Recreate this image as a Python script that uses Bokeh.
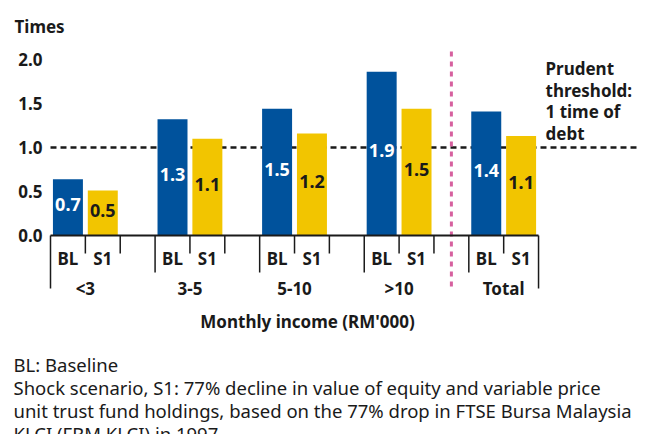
from bokeh.plotting import figure
from bokeh.models import Range1d
from bokeh.core.properties import value
from bokeh.embed import file_html
from bokeh.resources import INLINE

# ---------------- data ----------------
groups = ["<3", "3-5", "5-10", ">10", "Total"]
series = ["BL", "S1"]
bl_values = [0.64, 1.32, 1.44, 1.86, 1.41]
s1_values = [0.51, 1.10, 1.16, 1.44, 1.13]
bl_labels = ["0.7", "1.3", "1.5", "1.9", "1.4"]
s1_labels = ["0.5", "1.1", "1.2", "1.5", "1.1"]
y_ticks = [0.0, 0.5, 1.0, 1.5, 2.0]
y_tick_labels = ["0.0", "0.5", "1.0", "1.5", "2.0"]
threshold = 1.0
y_title = "Times"
x_title = "Monthly income (RM'000)"
threshold_note = ["Prudent", "threshold:", "1 time of", "debt"]
footnotes = [
    "BL: Baseline",
    "Shock scenario, S1: 77% decline in value of equity and variable price",
    "unit trust fund holdings, based on the 77% drop in FTSE Bursa Malaysia",
    "KLCI (FBM KLCI) in 1997",
]

# ---------------- layout ----------------
FONT = "Noto Sans"
BLUE = "#00529c"
YELLOW = "#f2c500"
INK = "#1a1a1a"
PINK = "#d6609f"

W, H = 649, 434
origin_x = 50.0          # px where the category axis starts
slot_px = 34.86          # width of one category slot in px
unit_px = 88.0           # px per 1.0 on the value axis
zero_px = 235.0          # px of the 0 line


def sx(px):  # px -> slot units
    return (px - origin_x) / slot_px


def sy(px):  # px -> value units
    return (zero_px - px) / unit_px


p = figure(width=W, height=H, output_backend="svg", toolbar_location=None,
           x_axis_location=None, y_axis_location=None,
           x_range=Range1d(sx(0), sx(W)), y_range=Range1d(sy(H), sy(0)),
           min_border_left=0, min_border_right=0,
           min_border_top=0, min_border_bottom=0)
p.outline_line_color = None
p.xgrid.visible = False
p.ygrid.visible = False

bold = dict(text_color=INK, text_font=value(FONT), text_font_style="bold",
            text_font_size="17px", text_baseline="middle")

# value axis tick labels
p.text([sx(42)] * len(y_ticks), y_ticks, text=y_tick_labels, text_align="right", **bold)

n = len(groups)
per_group = 3
bl_x = [per_group * i + 0.5 for i in range(n)]
s1_x = [per_group * i + 1.5 for i in range(n)]
grp_x = [per_group * i + 1.0 for i in range(n)]
axis_end = per_group * (n - 1) + 2

# threshold line
p.line([0, sx(639)], [threshold, threshold], line_color=INK, line_width=2.5, line_dash="6 4")

# bars
p.vbar(x=bl_x, top=bl_values, width=0.86, bottom=0, fill_color=BLUE, line_color=None)
p.vbar(x=s1_x, top=s1_values, width=0.86, bottom=0, fill_color=YELLOW, line_color=None)

# bar labels
lab_dy = 3 / unit_px
lab = dict(text_font=value(FONT), text_font_style="bold", text_font_size="18px",
           text_align="center", text_baseline="middle")
p.text(bl_x, [v / 2 + lab_dy for v in bl_values], text=bl_labels, text_color="white", **lab)
p.text(s1_x, [v / 2 + lab_dy for v in s1_values], text=s1_labels, text_color=INK, **lab)

# separator before Total
sep_x = per_group * (n - 1) - 0.5
p.line([sep_x, sep_x], [sy(51), sy(290)], line_color=PINK, line_width=3, line_dash="5 5")

# category axis line & ticks
p.line([0, axis_end], [0, 0], line_color=INK, line_width=1.8)
short_len, mid_len, long_len = 18 / unit_px, 37 / unit_px, 53 / unit_px
tx, ty0, ty1 = [], [], []
for k in range(0, axis_end + 1):
    if k == 0 or k == axis_end:
        L = long_len
    elif k % per_group == 0:
        L = mid_len
    else:
        L = short_len
    tx.append(k)
    ty0.append(0)
    ty1.append(-L)
p.segment(x0=tx, y0=ty0, x1=tx, y1=ty1, line_color=INK, line_width=1.5)

# series labels
sub_x = bl_x + s1_x
sub_t = [series[0]] * n + [series[1]] * n
p.text(sub_x, [sy(258)] * len(sub_x), text=sub_t, text_align="center", **bold)
# group labels
p.text(grp_x, [sy(288)] * n, text=groups, text_align="center", **bold)
# x title
p.text([sx(307)], [sy(321)], text=[x_title], text_align="center", **bold)

# threshold note
note_y = [sy(68 + 21.7 * i) for i in range(len(threshold_note))]
p.text([sx(545)] * len(threshold_note), note_y, text=threshold_note, text_align="left", **bold)

# y title
p.text([sx(14)], [sy(26)], text=[y_title], text_align="left", **bold)

# footnotes
foot_y = [sy(364 + 23 * i) for i in range(len(footnotes))]
p.text([sx(13)] * len(footnotes), foot_y, text=footnotes, text_color=INK,
       text_font=value(FONT), text_font_size="18.5px", text_align="left",
       text_baseline="middle")

open("out.html", "w").write(file_html(p, INLINE))
